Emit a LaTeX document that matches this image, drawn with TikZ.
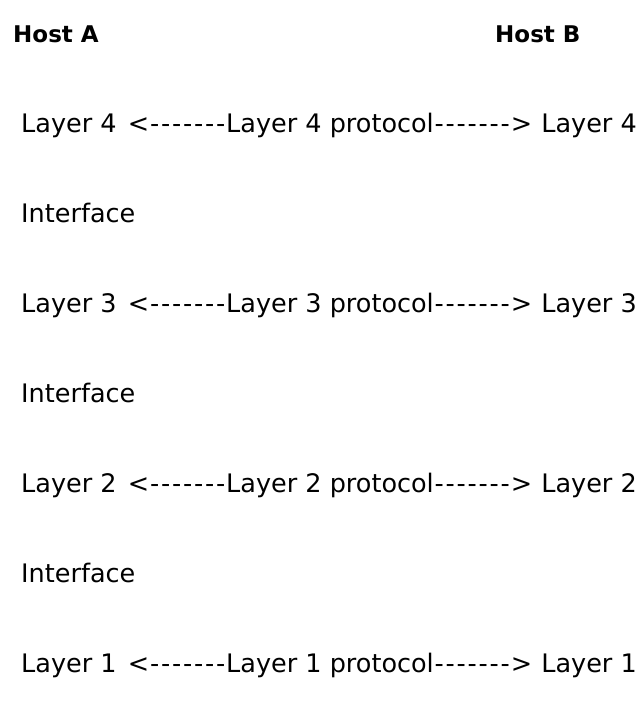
\documentclass[tikz,border=0pt]{standalone}
\usepackage{fontspec}
\setmainfont{DejaVu Sans}
\usepackage{tikz}

% one hyphen on a fixed pitch, seven of them make a dash run
\newcommand{\hy}{\makebox[11pt]{-}}
\newcommand{\dashes}{\hy\hy\hy\hy\hy\hy\hy}

\begin{document}
\begin{tikzpicture}[x=1pt,y=-1pt,
  lbl/.style={inner sep=0pt,font=\fontsize{25.5}{30}\selectfont},
  host/.style={lbl,font=\fontsize{23}{28}\selectfont\bfseries}]
\useasboundingbox (0,0) rectangle (642,707);

\node[host,anchor=base west] (hostA) at (13,42) {Host A};
\node[host,anchor=base west] (hostB) at (495,42) {Host B};

\node[lbl,anchor=base west] (a4) at (21,132) {Layer 4};
\node[lbl,anchor=base] (p4) at (330,132) {<\dashes Layer 4 protocol\dashes>};
\node[lbl,anchor=base east] (b4) at (637,132) {Layer 4};

\node[lbl,anchor=base west] (i3) at (21,222) {Interface};

\node[lbl,anchor=base west] (a3) at (21,312) {Layer 3};
\node[lbl,anchor=base] (p3) at (330,312) {<\dashes Layer 3 protocol\dashes>};
\node[lbl,anchor=base east] (b3) at (637,312) {Layer 3};

\node[lbl,anchor=base west] (i2) at (21,402) {Interface};

\node[lbl,anchor=base west] (a2) at (21,492) {Layer 2};
\node[lbl,anchor=base] (p2) at (330,492) {<\dashes Layer 2 protocol\dashes>};
\node[lbl,anchor=base east] (b2) at (637,492) {Layer 2};

\node[lbl,anchor=base west] (i1) at (21,582) {Interface};

\node[lbl,anchor=base west] (a1) at (21,672) {Layer 1};
\node[lbl,anchor=base] (p1) at (330,672) {<\dashes Layer 1 protocol\dashes>};
\node[lbl,anchor=base east] (b1) at (637,672) {Layer 1};
\end{tikzpicture}
\end{document}
